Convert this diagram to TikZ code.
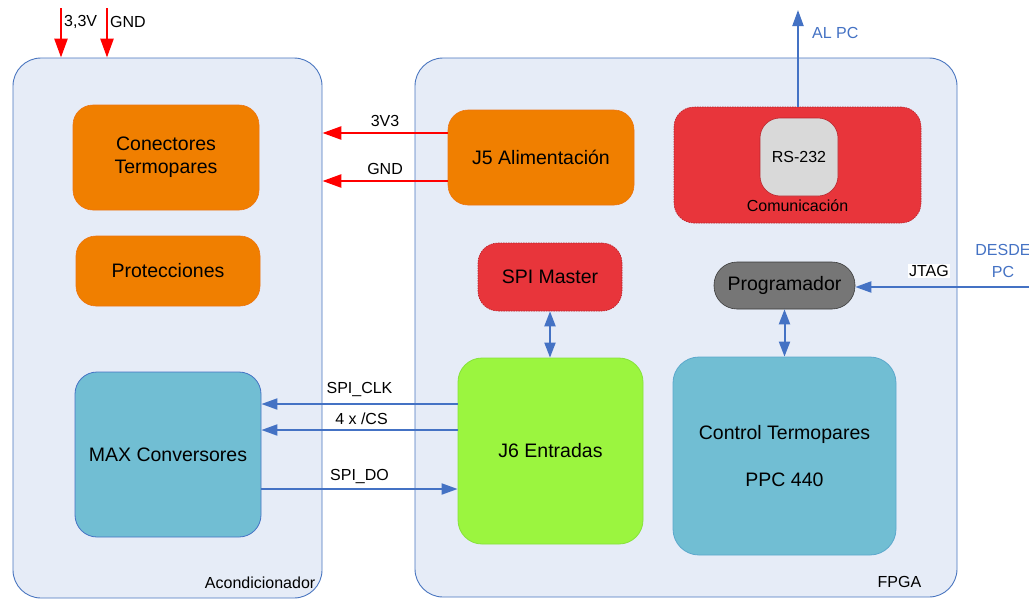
\documentclass[tikz,border=0pt]{standalone}
\usepackage{fontspec}
\setmainfont{Liberation Sans}
\usetikzlibrary{arrows.meta}

\definecolor{panelfill}{HTML}{E6ECF7}
\definecolor{panelline}{HTML}{4A76C0}
\definecolor{orangefill}{HTML}{F07F00}
\definecolor{orangeline}{HTML}{EE7410}
\definecolor{redfill}{HTML}{E8353B}
\definecolor{redline}{HTML}{B8232B}
\definecolor{tealfill}{HTML}{71BED3}
\definecolor{tealline}{HTML}{5BA8CC}
\definecolor{greenfill}{HTML}{9BF53F}
\definecolor{greenline}{HTML}{86E23A}
\definecolor{greyfill}{HTML}{767676}
\definecolor{greyline}{HTML}{3A3A3A}
\definecolor{lightgrey}{HTML}{D9D9D9}
\definecolor{wireblue}{HTML}{4472C4}
\definecolor{wirered}{HTML}{FF0000}

\tikzset{
  panel/.style={draw=panelline, fill=panelfill, line width=0.9pt,
    rounded corners=28pt, rectangle, inner sep=0pt},
  blk/.style={rectangle, inner sep=0pt, align=center,
    font=\fontsize{19.5}{23.4}\selectfont},
  orangeblk/.style={blk, draw=orangeline, fill=orangefill, line width=0.6pt, rounded corners=20pt},
  redblk/.style={blk, draw=redline, fill=redfill, line width=0.6pt,
    dash pattern=on 1.5pt off 1pt, rounded corners=20pt},
  tealblk/.style={blk, fill=tealfill, line width=0.8pt},
  small/.style={font=\fontsize{16}{19}\selectfont, inner sep=1pt},
  redwire/.style={draw=wirered, line width=2.6pt,
    -{Triangle[length=19pt,width=13pt]}},
  bluewire/.style={draw=wireblue, line width=2pt,
    -{Triangle[length=16pt,width=11pt]}},
  bluebiwire/.style={draw=wireblue, line width=2pt,
    {Triangle[length=15pt,width=11pt]}-{Triangle[length=15pt,width=11pt]}},
}

\begin{document}
\begin{tikzpicture}[x=1pt, y=-1pt]
  \useasboundingbox[fill=white] (0,0) rectangle (1029,600);

  % the two boards
  \node[panel, minimum width=309pt, minimum height=540pt] (acond) at (167.5,328) {};
  \node[panel, minimum width=542pt, minimum height=539pt] (fpga) at (686,327.5) {};
  \node[small, anchor=south east] at ([xshift=-6pt,yshift=9pt]acond.south east) {Acondicionador};
  \node[small, anchor=south east] at ([xshift=-35pt,yshift=9pt]fpga.south east) {FPGA};

  % conditioning board blocks
  \node[orangeblk, minimum width=186pt, minimum height=105pt] (conect) at (166,157.5) {Conectores\\Termopares};
  \node[orangeblk, minimum width=184pt, minimum height=70pt] (protec) at (168,271) {Protecciones};
  \node[tealblk, draw=wireblue, rounded corners=22pt, minimum width=186pt, minimum height=165pt] (max) at (168,454.5) {MAX Conversores};

  % FPGA blocks
  \node[orangeblk, minimum width=186pt, minimum height=95pt] (j5) at (541,157.5) {J5 Alimentación};
  \node[redblk, minimum width=247pt, minimum height=116pt] (comun) at (797.5,165) {};
  \node[blk, draw=redline, fill=lightgrey, line width=0.6pt, rounded corners=20pt,
        minimum width=78pt, minimum height=78pt, font=\fontsize{16}{19}\selectfont] (rs) at (799,157) {RS-232};
  \node[small] at ([yshift=18pt]comun.south) {Comunicación};
  \node[redblk, minimum width=144pt, minimum height=68pt] (spim) at (550,277) {SPI Master};
  \node[blk, draw=greyline, fill=greyfill, line width=0.6pt, rounded corners=23pt,
        minimum width=141pt, minimum height=47pt] (prog) at (784.5,285.5) {Programador};
  \node[blk, draw=greenline, fill=greenfill, line width=0.8pt, rounded corners=24pt,
        minimum width=185pt, minimum height=186pt] (j6) at (550.5,451) {J6 Entradas};
  \node[tealblk, draw=tealline, rounded corners=26pt, minimum width=223pt, minimum height=198pt] (ctrl) at (784.5,456)
        {Control Termopares\\[23.6pt]PPC 440};

  % supply inputs
  \coordinate (vin) at (61,8);
  \coordinate (gin) at (107,8);
  \draw[redwire] (vin) -- (vin |- acond.north);
  \draw[redwire] (gin) -- (gin |- acond.north);
  \node[small, anchor=west] at (63,22) {3,3V};
  \node[small, anchor=west] at (109,22) {GND};

  % power from J5 to the conditioning board
  \draw[redwire] ([yshift=24.5pt]j5.west) coordinate (p3) -- (p3 -| acond.east)
    node[small, midway, above=4pt] {3V3};
  \draw[redwire] ([yshift=-23.5pt]j5.west) coordinate (pg) -- (pg -| acond.east)
    node[small, midway, above=4pt] {GND};

  % serial link to the PC
  \coordinate (pcout) at (798,10);
  \draw[bluewire] (comun.north -| pcout) -- (pcout);
  \node[small, anchor=west, text=wireblue] at (811,33) {AL PC};

  % JTAG from the PC
  \coordinate (jtin) at (1029,287);
  \draw[bluewire] (jtin) -- (jtin -| prog.east);
  \node[small, fill=white, inner sep=1.5pt] at (929,271) {JTAG};
  \node[small, text=wireblue, align=center, font=\fontsize{16}{22}\selectfont] at (1003,261) {DESDE\\PC};

  % internal links
  \draw[bluebiwire] (spim.south) -- (spim.south |- j6.north);
  \draw[bluebiwire] (prog.south) -- (prog.south |- ctrl.north);

  % SPI bus
  \draw[bluewire] ([yshift=47pt]j6.west) coordinate (sc) -- (sc -| max.east)
    node[small, midway, above=5pt] {SPI\_CLK};
  \draw[bluewire] ([yshift=21pt]j6.west) coordinate (cs) -- (cs -| max.east)
    node[small, midway, above=3pt, xshift=2pt] {4 x /CS};
  \draw[bluewire] ([yshift=-34.5pt]max.east) coordinate (sd) -- (sd -| j6.west)
    node[small, midway, above=3pt] {SPI\_DO};
\end{tikzpicture}
\end{document}
